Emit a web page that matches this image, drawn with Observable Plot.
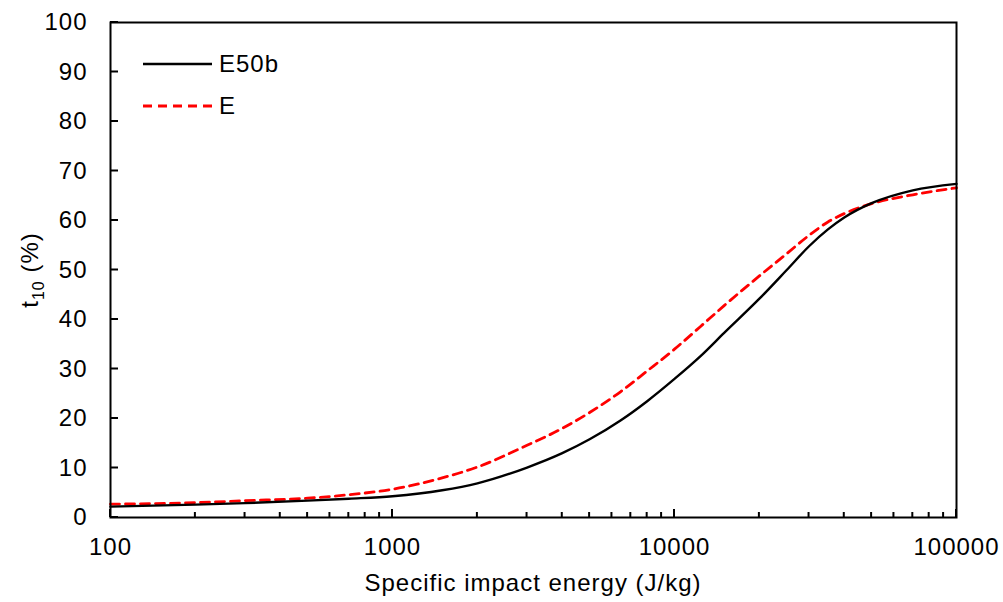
<!DOCTYPE html>
<html>
<head>
<meta charset="utf-8">
<script src="https://cdn.jsdelivr.net/npm/d3@7"></script>
<script src="https://cdn.jsdelivr.net/npm/@observablehq/plot@0.6"></script>
<style>
  html, body { margin: 0; padding: 0; background: #fff; }
  #chart svg { display: block; }
</style>
</head>
<body>
<div id="chart"></div>
<script>
// ---- data ----
const energy = [100, 200, 300, 500, 700, 1000, 1500, 2000, 3000, 4000, 5000, 6435, 8000, 10000, 12370, 15000, 20000, 25000, 30000, 35000, 40000, 50000, 70000, 100000];
const e50b   = [2.2, 2.6, 2.9, 3.4, 3.8, 4.3, 5.5, 6.9, 10.1, 13.0, 15.8, 19.6, 23.5, 28.0, 32.6, 37.3, 44.2, 50.0, 54.8, 58.2, 60.6, 63.5, 66.1, 67.4];
const eSeries= [2.7, 3.0, 3.4, 3.9, 4.6, 5.7, 8.0, 10.2, 14.6, 18.0, 21.2, 25.4, 29.6, 34.0, 38.6, 42.8, 48.8, 53.3, 57.0, 59.7, 61.4, 63.4, 65.2, 66.6];
const seriesNames = ["E50b", "E"];
const xTickValues = [100, 1000, 10000, 100000];
const xMinorTicks = [200,300,400,500,600,700,800,900, 2000,3000,4000,5000,6000,7000,8000,9000, 20000,30000,40000,50000,60000,70000,80000,90000];
const yTickValues = [0, 10, 20, 30, 40, 50, 60, 70, 80, 90, 100];
const xLabel = "Specific impact energy (J/kg)";

const rowsA = energy.map((x, i) => ({x, y: e50b[i]}));
const rowsB = energy.map((x, i) => ({x, y: eSeries[i]}));

const FONT = "'Liberation Sans', Arial, sans-serif";

const chart = Plot.plot({
  width: 1003,
  height: 602,
  marginLeft: 110,
  marginRight: 47,
  marginTop: 22,
  marginBottom: 85,
  style: {fontFamily: FONT, fontSize: "24px", color: "#000", background: "#fff", letterSpacing: "1px"},
  x: {type: "log", domain: [100, 100000]},
  y: {domain: [0, 100]},
  marks: [
    Plot.axisY({ticks: yTickValues, tickSize: 0, tickPadding: 23, tickFormat: d => String(d), fontSize: 24, label: null}),
    Plot.axisX({ticks: xTickValues, tickSize: 0, tickPadding: 20, tickFormat: d => String(d), fontSize: 24, label: null}),
    Plot.line(rowsB, {x: "x", y: "y", stroke: "#ff0000", strokeWidth: 2.8, strokeDasharray: "9,6", curve: "monotone-x"}),
    Plot.line(rowsA, {x: "x", y: "y", stroke: "#000", strokeWidth: 2.4, curve: "monotone-x"}),
    Plot.frame({stroke: "#000", strokeWidth: 2})
  ]
});

document.getElementById("chart").appendChild(chart);

const svg = d3.select(chart);
const sx = chart.scale("x");
const sy = chart.scale("y");
const g = svg.append("g").attr("font-family", FONT).attr("fill", "#000");

// inward tick marks, positioned through the chart's own scales
const x0 = sx.apply(100), yBottom = sy.apply(0);
const ticks = g.append("g").attr("stroke", "#000").attr("stroke-width", 2);
yTickValues.forEach(v => {
  const y = sy.apply(v);
  ticks.append("line").attr("x1", x0).attr("x2", x0 + 8).attr("y1", y).attr("y2", y);
});
xTickValues.forEach(v => {
  const x = sx.apply(v);
  ticks.append("line").attr("x1", x).attr("x2", x).attr("y1", yBottom).attr("y2", yBottom - 8);
});
xMinorTicks.forEach(v => {
  const x = sx.apply(v);
  ticks.append("line").attr("x1", x).attr("x2", x).attr("y1", yBottom).attr("y2", yBottom - 5);
});

// x axis title
g.append("text")
  .attr("x", 533).attr("y", 591)
  .attr("text-anchor", "middle")
  .attr("font-size", 24)
  .attr("letter-spacing", "1px")
  .text(xLabel);

// y axis title with subscript
const yt = g.append("text")
  .attr("transform", "translate(38,270) rotate(-90)")
  .attr("text-anchor", "middle")
  .attr("font-size", 24)
  .attr("letter-spacing", "1px");
yt.append("tspan").text("t");
yt.append("tspan").attr("font-size", 16).attr("dy", 6).text("10");
yt.append("tspan").attr("dy", -6).text(" (%)");

// legend
const legend = [
  {name: seriesNames[0], stroke: "#000", dash: null, width: 2.4},
  {name: seriesNames[1], stroke: "#ff0000", dash: "9,6", width: 2.8}
];
legend.forEach((d, i) => {
  const y = 64 + i * 42;
  g.append("line")
    .attr("x1", 143).attr("x2", 212).attr("y1", y).attr("y2", y)
    .attr("stroke", d.stroke).attr("stroke-width", d.width)
    .attr("stroke-dasharray", d.dash);
  g.append("text")
    .attr("x", 219).attr("y", y).attr("dy", "0.35em")
    .attr("text-anchor", "start")
    .attr("font-size", 24).attr("letter-spacing", "1px")
    .text(d.name);
});
</script>
</body>
</html>
